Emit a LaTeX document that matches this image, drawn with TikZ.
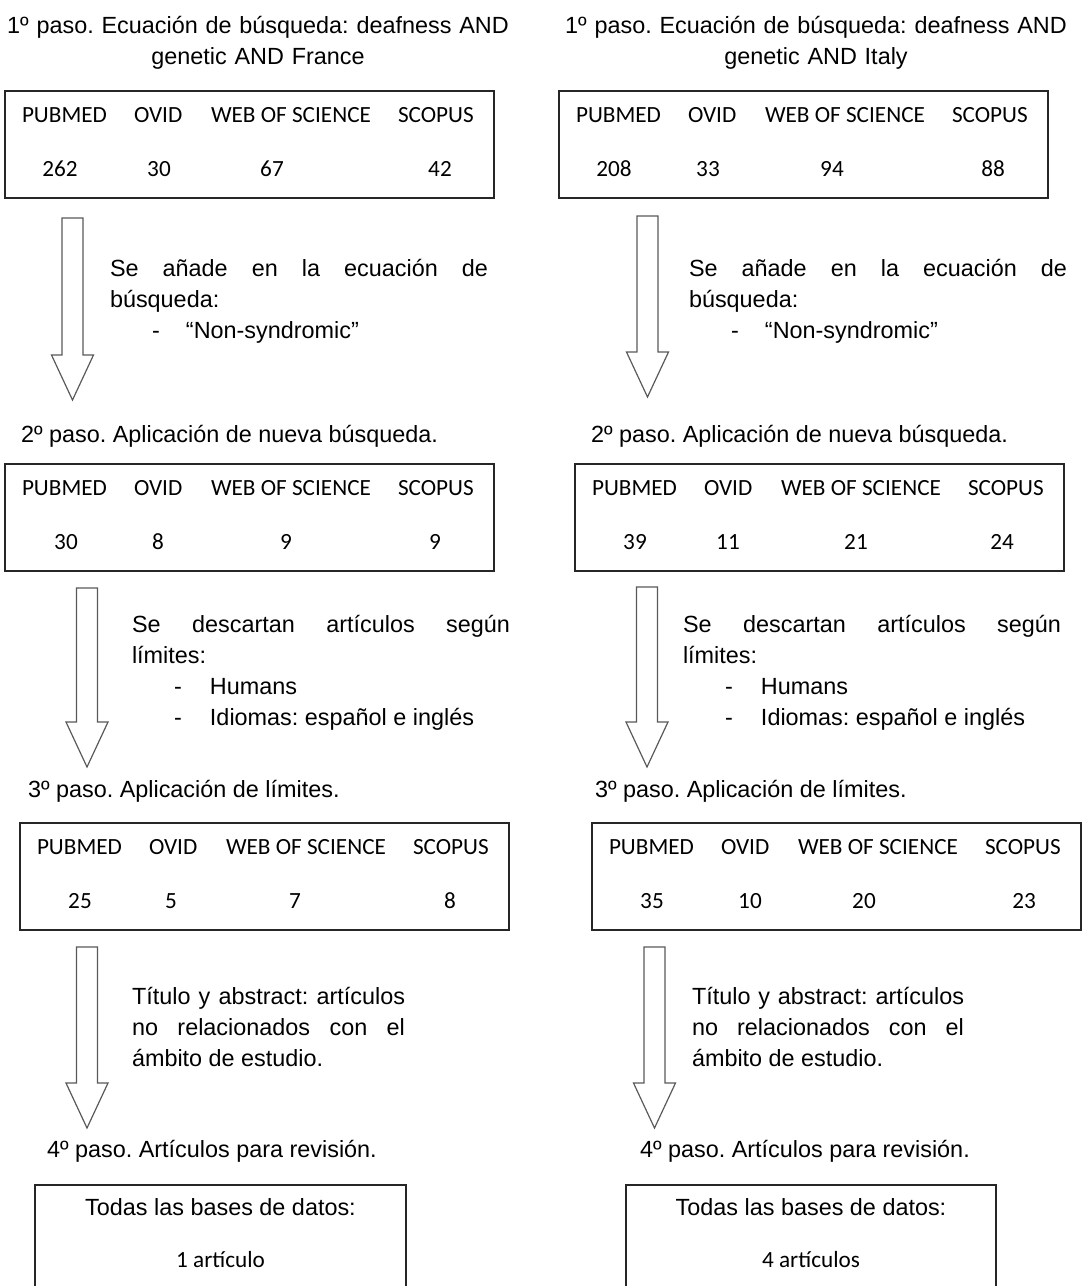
\documentclass[tikz,border=0pt]{standalone}
\usepackage{fontspec}
\setmainfont{Liberation Sans}
\newfontfamily\calibri{Carlito}
\usetikzlibrary{calc}
\setlength{\parindent}{0pt}
\frenchspacing
\tolerance=10000
\hbadness=10000
\hyphenpenalty=10000
\newcommand{\pasofont}{\fontsize{11.7pt}{15.5pt}\selectfont}
\newcommand{\dbfont}{\calibri\fontsize{11.6pt}{14pt}\selectfont}
% flecha hueca entre dos pasos
\newcommand{\flecha}[2]{%
  \draw[hueca] let \p1=(#1), \p2=(#2) in
    (\x1-5.25pt,\y1) -- (\x1+5.25pt,\y1) -- (\x1+5.25pt,\y2+22.5pt)
    -- (\x1+10.5pt,\y2+22.5pt) -- (\x2,\y2) -- (\x1-10.5pt,\y2+22.5pt)
    -- (\x1-5.25pt,\y2+22.5pt) -- cycle;}

\begin{document}
\begin{tikzpicture}[x=0.5pt,y=-0.5pt,
  every node/.style={inner sep=0pt,outer sep=0pt,font=\pasofont},
  titulo/.style={anchor=north,text width=260pt,align=center},
  paso/.style={anchor=base west},
  nota/.style={anchor=north west,text width=189pt,align=justify},
  dbbox/.style={draw=black!85,line width=1pt,anchor=north west,minimum width=244.5pt,minimum height=53.5pt},
  finbox/.style={draw=black!85,line width=1pt,anchor=north west,minimum width=185.5pt,minimum height=53.5pt},
  dbtext/.style={font=\dbfont},
  hueca/.style={draw=black!65,line width=0.6pt,line join=miter}]
  \useasboundingbox (0,0) rectangle (1082,1286);
  \clip (0,0) rectangle (1082,1286);

  % France
  \node[titulo] (t1L) at (258,12) {\strut 1º paso. Ecuación de búsqueda: deafness AND\\genetic AND France};
  \node[dbbox] (db1L) at (5,91) {};
  \coordinate (f1La) at (72.5,218); \coordinate (f1Lb) at (72.5,400);
  \flecha{f1La}{f1Lb}
  \node[nota] (n1L) at (110,255) {\strut Se añade en la ecuación de\linebreak búsqueda:\par
    \hspace*{21pt}\makebox[17pt][l]{-}“Non-syndromic”};
  \node[paso] (t2L) at (21,442) {2º paso. Aplicación de nueva búsqueda.};
  \node[dbbox] (db2L) at (5,464) {};
  \coordinate (f2La) at (87,588); \coordinate (f2Lb) at (87,767);
  \flecha{f2La}{f2Lb}
  \node[nota] (n2L) at (132,611) {\strut Se descartan artículos según\linebreak límites:\par
    \hspace*{21pt}\makebox[18pt][l]{-}Humans\par
    \hspace*{21pt}\makebox[18pt][l]{-}Idiomas: español e inglés};
  \node[paso] (t3L) at (28,797) {3º paso. Aplicación de límites.};
  \node[dbbox] (db3L) at (20,823) {};
  \coordinate (f3La) at (87,947); \coordinate (f3Lb) at (87,1128);
  \flecha{f3La}{f3Lb}
  \node[nota,text width=136.5pt] (n3L) at (132,983) {\strut Título y abstract: artículos\linebreak
    no relacionados con el\linebreak ámbito de estudio.};
  \node[paso] (t4L) at (47,1157) {4º paso. Artículos para revisión.};
  \node[finbox] (finL) at (35,1185) {};
  \node[anchor=base] (finLa) at ($(finL.north)+(0,30)$) {Todas las bases de datos:};
  \node[dbtext,anchor=base] (finLb) at ($(finL.north)+(0,82)$) {1 artículo};

  % Italy
  \node[titulo] (t1R) at (816,12) {\strut 1º paso. Ecuación de búsqueda: deafness AND\\genetic AND Italy};
  \node[dbbox] (db1R) at (559,91) {};
  \coordinate (f1Ra) at (647.5,216); \coordinate (f1Rb) at (647.5,397);
  \flecha{f1Ra}{f1Rb}
  \node[nota] (n1R) at (689,255) {\strut Se añade en la ecuación de\linebreak búsqueda:\par
    \hspace*{21pt}\makebox[17pt][l]{-}“Non-syndromic”};
  \node[paso] (t2R) at (591,442) {2º paso. Aplicación de nueva búsqueda.};
  \node[dbbox] (db2R) at (575,464) {};
  \coordinate (f2Ra) at (647,587); \coordinate (f2Rb) at (647,767);
  \flecha{f2Ra}{f2Rb}
  \node[nota] (n2R) at (683,611) {\strut Se descartan artículos según\linebreak límites:\par
    \hspace*{21pt}\makebox[18pt][l]{-}Humans\par
    \hspace*{21pt}\makebox[18pt][l]{-}Idiomas: español e inglés};
  \node[paso] (t3R) at (595,797) {3º paso. Aplicación de límites.};
  \node[dbbox] (db3R) at (592,823) {};
  \coordinate (f3Ra) at (654.5,947); \coordinate (f3Rb) at (654.5,1128);
  \flecha{f3Ra}{f3Rb}
  \node[nota,text width=136pt] (n3R) at (692,983) {\strut Título y abstract: artículos\linebreak
    no relacionados con el\linebreak ámbito de estudio.};
  \node[paso] (t4R) at (640,1157) {4º paso. Artículos para revisión.};
  \node[finbox,minimum width=185pt] (finR) at (626,1185) {};
  \node[anchor=base] (finRa) at ($(finR.north)+(0,30)$) {Todas las bases de datos:};
  \node[dbtext,anchor=base] (finRb) at ($(finR.north)+(0,82)$) {4 artículos};

  % cabeceras de las bases de datos
  \foreach \b in {db1L,db2L,db3L,db1R,db2R,db3R}
    \foreach \h/\dx [count=\i] in {PUBMED/0,OVID/112,WEB OF SCIENCE/189,SCOPUS/376}
      \node[dbtext,anchor=base west] (\b-h\i) at ($(\b.north west)+(17+\dx,31)$) {\h};

  % resultados
  \foreach \n/\dx [count=\i] in {262/38,30/137,67/250,42/418}
    \node[dbtext,anchor=base] (db1L-n\i) at ($(db1L.north west)+(17+\dx,85)$) {\n};
  \foreach \n/\dx [count=\i] in {30/44,8/136,9/264,9/413}
    \node[dbtext,anchor=base] (db2L-n\i) at ($(db2L.north west)+(17+\dx,85)$) {\n};
  \foreach \n/\dx [count=\i] in {25/43,5/134,7/258,8/413}
    \node[dbtext,anchor=base] (db3L-n\i) at ($(db3L.north west)+(17+\dx,85)$) {\n};
  \foreach \n/\dx [count=\i] in {208/38,33/132,94/256,88/417}
    \node[dbtext,anchor=base] (db1R-n\i) at ($(db1R.north west)+(17+\dx,85)$) {\n};
  \foreach \n/\dx [count=\i] in {39/43,11/136,21/264,24/410}
    \node[dbtext,anchor=base] (db2R-n\i) at ($(db2R.north west)+(17+\dx,85)$) {\n};
  \foreach \n/\dx [count=\i] in {35/43,10/141,20/255,23/415}
    \node[dbtext,anchor=base] (db3R-n\i) at ($(db3R.north west)+(17+\dx,85)$) {\n};
\end{tikzpicture}
\end{document}
